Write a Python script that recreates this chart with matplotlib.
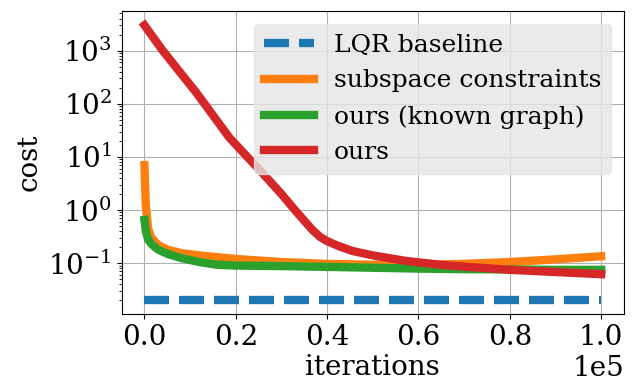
import matplotlib.pyplot as plt
import numpy as np

plt.rcParams['font.family'] = 'DejaVu Serif'
plt.rcParams['font.size'] = 20

# iterations (raw) at which values were read
it_lqr = [0, 100000]
cost_lqr = [0.02, 0.02]

it_sub = [0, 300, 800, 1500, 3000, 5000, 8000, 12000, 20000, 30000, 40000, 50000, 60000, 70000, 80000, 90000, 100000]
cost_sub = [7.0, 1.2, 0.45, 0.30, 0.22, 0.18, 0.155, 0.14, 0.12, 0.105, 0.097, 0.093, 0.093, 0.097, 0.105, 0.118, 0.135]

it_known = [0, 300, 800, 1500, 3000, 5000, 8000, 12000, 16000, 20000, 30000, 40000, 50000, 60000, 70000, 80000, 90000, 100000]
cost_known = [0.65, 0.4, 0.28, 0.23, 0.18, 0.15, 0.125, 0.105, 0.093, 0.09, 0.088, 0.085, 0.082, 0.079, 0.077, 0.076, 0.075, 0.075]

it_ours = [0, 4000, 11400, 18600, 25800, 30000, 33300, 36800, 38500, 40000, 42500, 45500, 50000, 57300, 65000, 70000, 80000, 90000, 100000]
cost_ours = [3000, 1000, 160, 23, 5.0, 2.0, 0.92, 0.42, 0.31, 0.26, 0.21, 0.17, 0.14, 0.11, 0.093, 0.086, 0.075, 0.068, 0.062]

fig, ax = plt.subplots(figsize=(6.4, 3.83), dpi=100)
ax.plot(it_lqr, cost_lqr, color='tab:blue', lw=6, ls=(0, (3, 1.2)), label='LQR baseline')
ax.plot(it_sub, cost_sub, color='tab:orange', lw=6, label='subspace constraints')
ax.plot(it_known, cost_known, color='tab:green', lw=6, label='ours (known graph)')
ax.plot(it_ours, cost_ours, color='tab:red', lw=6, label='ours')

ax.set_yscale('log')
ax.set_xlabel('iterations', labelpad=2)
ax.set_ylabel('cost')
ax.ticklabel_format(axis='x', style='sci', scilimits=(0, 0))
ax.grid(True)
ax.legend(loc='upper right', fontsize=18, framealpha=0.8, facecolor='#e5e5e5', edgecolor='#e5e5e5')

fig.subplots_adjust(left=0.19, right=0.975, top=0.97, bottom=0.18)
fig.savefig('out.png', dpi=100)
